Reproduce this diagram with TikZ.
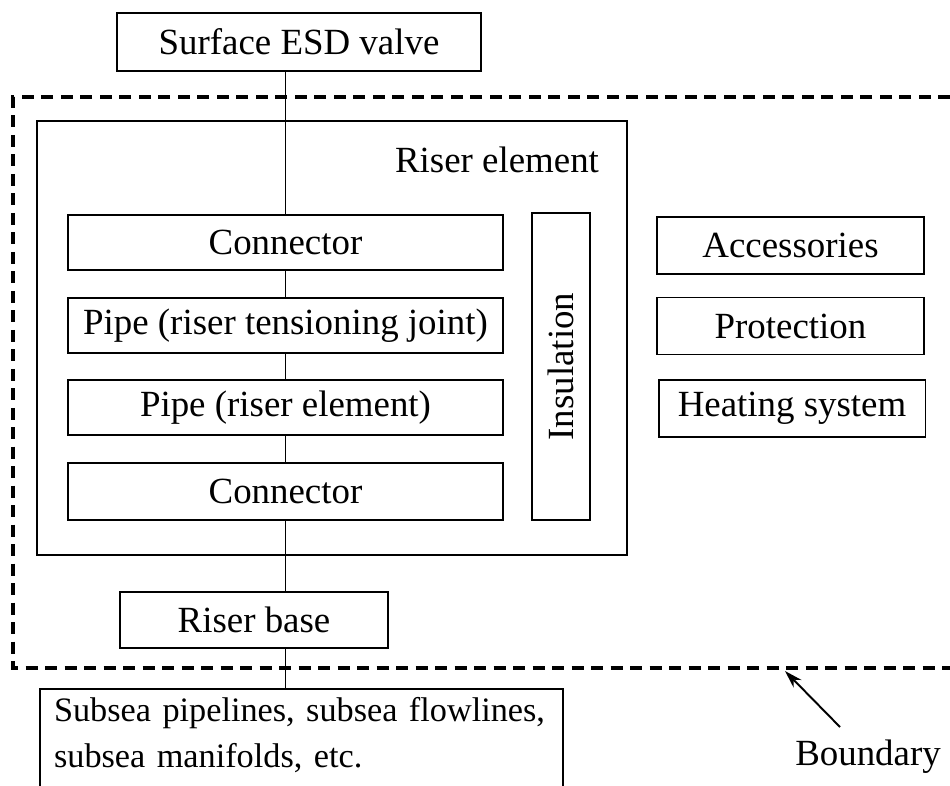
\documentclass[tikz,border=0pt]{standalone}
\usepackage{fontspec}
\setmainfont{Liberation Serif}
\usetikzlibrary{arrows.meta}
\tikzset{
  box/.style={draw, line width=1.1pt, align=center, inner sep=0pt, font=\fontsize{21}{26}\selectfont},
  kpart/.style={box, minimum width=8.7cm, minimum height=1.1cm},
  kside/.style={box, minimum width=5.34cm, minimum height=1.14cm},
  klink/.style={line width=1.1pt},
  kbound/.style={line width=1.9pt, dash pattern=on 0.24cm off 0.15cm},
  flow/.style={-{Stealth[length=3.6mm, width=2.2mm]}, line width=1.1pt},
}
\begin{document}
\begin{tikzpicture}[x=0.02cm, y=-0.02cm]
    \clip (0,0) rectangle (950,785);
    \fill[white] (0,0) rectangle (950,785);
    \node[box, minimum width=7.28cm, minimum height=1.16cm] (esd) at (299,42) {Surface ESD valve};
    \node[box, minimum width=11.8cm, minimum height=8.68cm] (riser) at (332,338) {};
    \node[font=\fontsize{21}{26}\selectfont] (risertitle) at (497,160) {Riser element};
    \node[kpart] (conna) at (285.5,242.5) {Connector};
    \node[kpart] (pipea) at (285.5,325.5) {Pipe (riser tensioning joint)};
    \node[kpart] (pipeb) at (285.5,407.5) {Pipe (riser element)};
    \node[kpart, minimum height=1.14cm] (connb) at (285.5,491.5) {Connector};
    \node[box, minimum width=1.16cm, minimum height=6.14cm] (insul) at (561,366.5) {\rotatebox{90}{Insulation}};
    \node[kside] (acc) at (790.5,245.5) {Accessories};
    \node[kside] (prot) at (790.5,326) {Protection};
    \node[kside] (heat) at (792,408.5) {Heating system};
    \node[box, minimum width=5.36cm, minimum height=1.12cm] (base) at (254,620) {Riser base};
    \node[box, minimum height=2.02cm, align=left, text width=9.9cm, inner xsep=0.28cm, font=\fontsize{19.5}{26}\selectfont, anchor=north] (subsea) at (301.5,688) {Subsea pipelines, subsea flowlines,\\subsea manifolds, etc.\strut};
    \node[font=\fontsize{21}{26}\selectfont] (bnd) at (868,757) {Boundary};
    \coordinate (tail) at (840,727);
    \coordinate (tip) at (785,671);
    % boundary of the riser system, open to the right
    \draw[kbound] (950,97) -- (13,97) -- (13,668) -- (950,668);
    % main line through the riser
    \draw[klink] (esd.south -| conna.north) -- (conna.north);
    \draw[klink] (conna) -- (pipea);
    \draw[klink] (pipea) -- (pipeb);
    \draw[klink] (pipeb) -- (connb);
    \draw[klink] (connb.south) -- (connb.south |- base.north);
    \draw[klink] (connb.south |- base.south) -- (connb.south |- subsea.north);
    \draw[flow] (tail) -- (tip);
  \end{tikzpicture}
\end{document}
